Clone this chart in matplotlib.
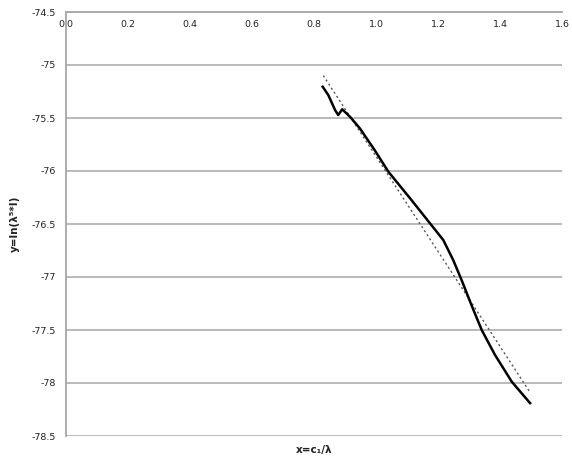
import matplotlib
matplotlib.use("Agg")
import matplotlib.pyplot as plt
from matplotlib.ticker import FuncFormatter

# data
curve_x = [0.828, 0.846, 0.868, 0.878, 0.891, 0.916, 0.948, 0.995, 1.040, 1.110,
           1.174, 1.217, 1.249, 1.276, 1.310, 1.341, 1.384, 1.438, 1.497]
curve_y = [-75.205, -75.283, -75.425, -75.472, -75.418, -75.488, -75.598, -75.80,
           -76.007, -76.258, -76.493, -76.651, -76.84, -77.028, -77.28, -77.50,
           -77.736, -77.988, -78.19]
trend_x = [0.830, 1.495]
trend_y = [-75.10, -78.08]
x_ticks = [0.0, 0.2, 0.4, 0.6, 0.8, 1.0, 1.2, 1.4, 1.6]
y_ticks = [-74.5, -75, -75.5, -76, -76.5, -77, -77.5, -78, -78.5]

plt.rcParams['font.family'] = ['DejaVu Sans']

fig = plt.figure(figsize=(5.72, 4.57), dpi=100)
W, H = 572, 457
ax = fig.add_axes([66 / W, 21 / H, 496 / W, 424 / H])

ax.set_xlim(0.0, 1.6)
ax.set_ylim(-78.5, -74.5)
ax.set_xticks(x_ticks)
ax.set_yticks(y_ticks)
ax.xaxis.set_major_formatter(FuncFormatter(lambda v, p: f"{v:.1f}"))
ax.yaxis.set_major_formatter(FuncFormatter(lambda v, p: f"{v:g}"))

grid_c = '#a6a6a6'
ax.grid(axis='y', color=grid_c, linewidth=1.1)
ax.set_axisbelow(True)
for s in ['right', 'bottom']:
    ax.spines[s].set_visible(False)
for s in ['left', 'top']:
    ax.spines[s].set_color(grid_c)
    ax.spines[s].set_linewidth(1.3)

ax.tick_params(axis='x', top=True, bottom=False, labeltop=True, labelbottom=False,
               length=0, pad=-12.5, labelsize=6.8, labelcolor='#222222')
ax.tick_params(axis='y', length=0, pad=7, labelsize=6.8, labelcolor='#222222')

ax.plot(trend_x, trend_y, color='#555555', linewidth=1.0, linestyle=(0, (1.5, 2.0)))
ax.plot(curve_x, curve_y, color='black', linewidth=1.8, solid_joinstyle='round')

ax.set_ylabel('y=ln(λ⁵*I)', fontsize=7.5, fontweight='bold', color='#222222')
ax.yaxis.set_label_coords(-0.093, 0.5)
ax.set_xlabel('x=c₁/λ', fontsize=7.5, fontweight='bold', color='#222222', va='center')
ax.xaxis.set_label_coords(0.5, -0.033)

fig.savefig('out.png', dpi=100)
